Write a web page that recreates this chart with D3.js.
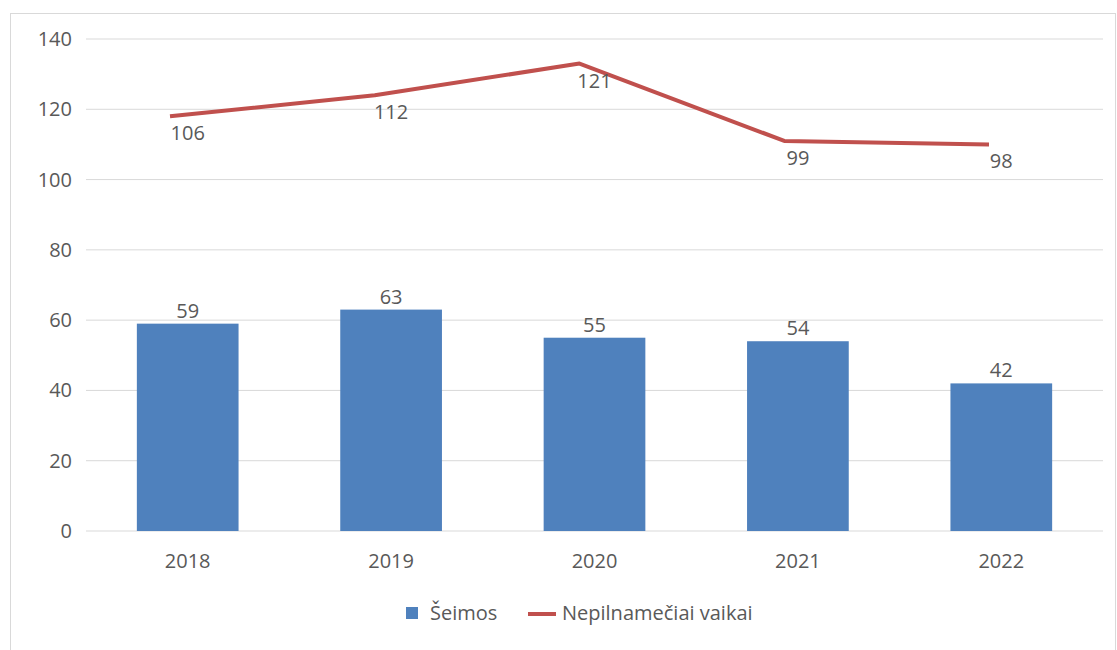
<!DOCTYPE html>
<html>
<head>
<meta charset="utf-8">
<script src="https://cdn.jsdelivr.net/npm/d3@7"></script>
<style>
  body { margin: 0; background: #fff; }
  svg text { font-family: "Open Sans", "Noto Sans", sans-serif; fill: #595959; }
</style>
</head>
<body>
<svg width="1117" height="650"></svg>
<script>
var years = ["2018", "2019", "2020", "2021", "2022"];
var seimos = [59, 63, 55, 54, 42];
var vaikai = [106, 112, 121, 99, 98];
var yTicks = [0, 20, 40, 60, 80, 100, 120, 140];
var fs = 20;

var svg = d3.select("svg");

// chart frame
svg.append("rect")
  .attr("x", 10.5).attr("y", 13.5)
  .attr("width", 1105).attr("height", 640)
  .attr("fill", "none").attr("stroke", "#d9d9d9");

var x = d3.scaleBand().domain(years).range([86, 1103]).paddingInner(0.5).paddingOuter(0.25);
var y = d3.scaleLinear().domain([0, 140]).range([531, 39]);
// line sits on its own (hidden) secondary axes
var x2 = d3.scalePoint().domain(years).range([170, 989]);
var y2 = d3.scaleLinear().domain([-12, 128]).range([531, 39]);

// gridlines
svg.append("g").selectAll("line").data(yTicks).join("line")
  .attr("x1", 86).attr("x2", 1103)
  .attr("y1", function(d) { return y(d); }).attr("y2", function(d) { return y(d); })
  .attr("stroke", "#d9d9d9").attr("stroke-width", 1);

// y axis labels
svg.append("g").selectAll("text").data(yTicks).join("text")
  .attr("x", 72).attr("y", function(d) { return y(d); })
  .attr("dy", "0.35em").attr("text-anchor", "end")
  .attr("font-size", fs)
  .text(function(d) { return d; });

// bars
svg.append("g").selectAll("rect").data(seimos).join("rect")
  .attr("x", function(d, i) { return x(years[i]); })
  .attr("y", function(d) { return y(d); })
  .attr("width", x.bandwidth())
  .attr("height", function(d) { return y(0) - y(d); })
  .attr("fill", "#4f81bd");

svg.append("g").selectAll("text").data(seimos).join("text")
  .attr("x", function(d, i) { return x(years[i]) + x.bandwidth() / 2; })
  .attr("y", function(d) { return y(d) - 6; })
  .attr("text-anchor", "middle").attr("font-size", fs)
  .text(function(d) { return d; });

// x labels
svg.append("g").selectAll("text").data(years).join("text")
  .attr("x", function(d) { return x(d) + x.bandwidth() / 2; })
  .attr("y", 568)
  .attr("text-anchor", "middle").attr("font-size", fs)
  .text(function(d) { return d; });

// line
var line = d3.line()
  .x(function(d, i) { return x2(years[i]); })
  .y(function(d) { return y2(d); });
svg.append("path").datum(vaikai)
  .attr("d", line)
  .attr("fill", "none").attr("stroke", "#c0504d")
  .attr("stroke-width", 4).attr("stroke-linejoin", "round");

svg.append("g").selectAll("text").data(vaikai).join("text")
  .attr("x", function(d, i) { return x(years[i]) + x.bandwidth() / 2; })
  .attr("y", function(d) { return y2(d) + 24; })
  .attr("text-anchor", "middle").attr("font-size", fs)
  .text(function(d) { return d; });

// legend
var lg = svg.append("g");
lg.append("rect").attr("x", 406).attr("y", 607).attr("width", 12).attr("height", 12).attr("fill", "#4f81bd");
lg.append("text").attr("x", 430).attr("y", 620).attr("font-size", fs).text("Šeimos");
lg.append("line").attr("x1", 528).attr("x2", 556).attr("y1", 614).attr("y2", 614)
  .attr("stroke", "#c0504d").attr("stroke-width", 4);
lg.append("text").attr("x", 562).attr("y", 620).attr("font-size", fs).text("Nepilnamečiai vaikai");
</script>
</body>
</html>
